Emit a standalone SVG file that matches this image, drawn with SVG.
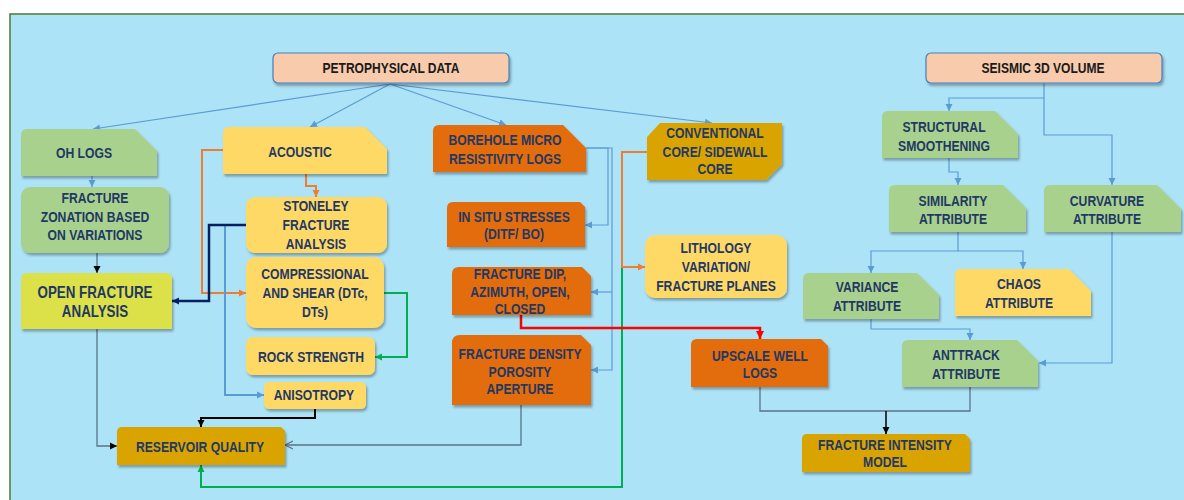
<svg xmlns="http://www.w3.org/2000/svg" width="1184" height="500" viewBox="0 0 1184 500">
<style>
.t{font-family:"Liberation Sans",Arial,sans-serif;font-weight:bold;font-size:14.5px;fill:#1F3864;text-anchor:middle}
.tk{fill:#1a1a1a}
.big{font-size:16.5px}
.peach{fill:#F8CBAD;stroke:#4A7EBB;stroke-width:1.2}
.green{fill:#A9D18E}
.yellow{fill:#FFD966}
.orange{fill:#E36C0A}
.gold{fill:#DAA400}
.lime{fill:#DCE04A}
.c{fill:none}
.cb{stroke:#5B9BD5;stroke-width:1.2}
.cs{stroke:#5A7388;stroke-width:1.3}
</style>
<defs>
<filter id="sh" x="-10%" y="-10%" width="130%" height="140%">
<feDropShadow dx="1.5" dy="2.5" stdDeviation="1.2" flood-color="#000" flood-opacity="0.3"/>
</filter>
<marker id="mb" markerWidth="9" markerHeight="9" refX="7" refY="4" orient="auto" markerUnits="userSpaceOnUse"><path d="M0,0.5 L7,4 L0,7.5Z" fill="#5B9BD5"/></marker>
<marker id="mo" markerWidth="9" markerHeight="9" refX="7" refY="4" orient="auto" markerUnits="userSpaceOnUse"><path d="M0,0.5 L7,4 L0,7.5Z" fill="#ED7D31"/></marker>
<marker id="mn" markerWidth="9" markerHeight="9" refX="7" refY="4" orient="auto" markerUnits="userSpaceOnUse"><path d="M0,0.5 L7,4 L0,7.5Z" fill="#002060"/></marker>
<marker id="mk" markerWidth="9" markerHeight="9" refX="7" refY="4" orient="auto" markerUnits="userSpaceOnUse"><path d="M0,0.5 L7,4 L0,7.5Z" fill="#000"/></marker>
<marker id="mg" markerWidth="9" markerHeight="9" refX="7" refY="4" orient="auto" markerUnits="userSpaceOnUse"><path d="M0,0.5 L7,4 L0,7.5Z" fill="#00B050"/></marker>
<marker id="mr" markerWidth="10" markerHeight="10" refX="8" refY="4.5" orient="auto" markerUnits="userSpaceOnUse"><path d="M0,0.5 L8,4.5 L0,8.5Z" fill="#FF0000"/></marker>
<marker id="mv" markerWidth="10" markerHeight="10" refX="8" refY="4.5" orient="auto" markerUnits="userSpaceOnUse"><path d="M0,0.5 L8,4.5 L0,8.5" fill="none" stroke="#5A7388" stroke-width="1.2"/></marker>
</defs>

<rect x="0" y="0" width="1184" height="500" fill="#fff"/>
<rect x="10" y="14" width="1180" height="492" fill="#ADE3F6"/>
<path d="M10,500 V14 H1184" fill="none" stroke="#4E7A2F" stroke-width="1.5"/>

<g id="connectors">
<path class="c cb" stroke-width="1" d="M390,84 L93,129" marker-end="url(#mb)"/>
<path class="c cb" stroke-width="1" d="M390,84 L310,127" marker-end="url(#mb)"/>
<path class="c cb" stroke-width="1" d="M390,84 L506,125" marker-end="url(#mb)"/>
<path class="c cb" stroke-width="1" d="M390,84 L712,123" marker-end="url(#mb)"/>
<path class="c cb" d="M92,176 V187" marker-end="url(#mb)"/>
<path class="c cs" d="M97,253 V273" marker-end="url(#mk)"/>
<path class="c" stroke="#ED7D31" stroke-width="2" d="M306,174 V186 H316 V197" marker-end="url(#mo)"/>
<path class="c" stroke="#ED7D31" stroke-width="2" d="M223,150 H202 V293 H246" marker-end="url(#mo)"/>
<path class="c" stroke="#5B9BD5" stroke-width="2" d="M225,225 V395 H264" marker-end="url(#mb)"/>
<path class="c" stroke="#002060" stroke-width="2.5" d="M246,225 H209 V301 H172" marker-end="url(#mn)"/>
<path class="c" stroke="#00B050" stroke-width="2" d="M384,293 H407 V357 H375" marker-end="url(#mg)"/>
<path class="c" stroke="#000" stroke-width="2" d="M315,409 V418 H201 V427" marker-end="url(#mk)"/>
<path class="c cs" d="M97,329 V446 H117" marker-end="url(#mk)"/>
<path class="c cs" d="M521,405 V445 H285" marker-end="url(#mv)"/>
<path class="c cb" d="M586,148 H608 V225 H585" marker-end="url(#mb)"/>
<path class="c cb" d="M586,148 H612 V370 H591" marker-end="url(#mb)"/>
<path class="c cb" d="M612,292 H591" marker-end="url(#mb)"/>
<path class="c" stroke="#00B050" stroke-width="2" d="M645,267 H622 V487 H201 V465" marker-end="url(#mg)"/>
<path class="c" stroke="#ED7D31" stroke-width="2" d="M647,152 H622 V267 H645" marker-end="url(#mo)"/>
<path class="c" stroke="#FF0000" stroke-width="2.5" d="M521,315 V328 H760 V339" marker-end="url(#mr)"/>
<path class="c cs" d="M760,387 V411 H886"/>
<path class="c cs" d="M970,387 V411 H886"/>
<path class="c" stroke="#000" stroke-width="1.5" d="M886,411 V434" marker-end="url(#mk)"/>
<path class="c cb" d="M1044,83 V98 H949 V111" marker-end="url(#mb)"/>
<path class="c cb" d="M1044,98 V135 H1112 V185" marker-end="url(#mb)"/>
<path class="c cb" d="M949,158 V172 H958 V185" marker-end="url(#mb)"/>
<path class="c cb" d="M958,232 V251 H871 V273" marker-end="url(#mb)"/>
<path class="c cb" d="M958,251 H1023 V269" marker-end="url(#mb)"/>
<path class="c cb" d="M871,319 V329 H970 V340" marker-end="url(#mb)"/>
<path class="c cb" d="M1112,232 V363 H1039" marker-end="url(#mb)"/>
</g>

<g id="petrophysical"><rect class="peach" x="273" y="53" width="236" height="30" rx="5" filter="url(#sh)"/><g transform="matrix(.83,0,0,1,391,0)"><text class="t tk" x="0" y="73">PETROPHYSICAL DATA</text></g></g>
<g id="seismic"><rect class="peach" x="926" y="53" width="236" height="30" rx="5" filter="url(#sh)"/><g transform="matrix(.83,0,0,1,1043,0)"><text class="t tk" x="0" y="73">SEISMIC 3D VOLUME</text></g></g>

<g id="ohlogs"><path class="green" filter="url(#sh)" d="M27,129 H135 L157,151 V176 H21 V135 Q21,129 27,129Z"/><g transform="matrix(.84,0,0,1,84,0)"><text class="t" x="0" y="158">OH LOGS</text></g></g>
<g id="zonation"><rect class="green" filter="url(#sh)" x="21" y="187" width="148" height="66" rx="9"/><g transform="matrix(.84,0,0,1,95,0)"><text class="t" x="0" y="203">FRACTURE</text><text class="t" x="0" y="222">ZONATION BASED</text><text class="t" x="0" y="240">ON VARIATIONS</text></g></g>
<g id="openfracture"><path class="lime" filter="url(#sh)" d="M27,273 H168 L172,277 V329 H21 V279 Q21,273 27,273Z"/><g transform="matrix(.81,0,0,1,95,0)"><text class="t big" x="0" y="298">OPEN FRACTURE</text><text class="t big" x="0" y="317">ANALYSIS</text></g></g>

<g id="acoustic"><path class="yellow" filter="url(#sh)" d="M229,127 H365 L387,149 V174 H223 V133 Q223,127 229,127Z"/><g transform="matrix(.84,0,0,1,300,0)"><text class="t" x="0" y="157">ACOUSTIC</text></g></g>
<g id="stoneley"><rect class="yellow" filter="url(#sh)" x="246" y="197" width="141" height="56" rx="9"/><g transform="matrix(.84,0,0,1,316,0)"><text class="t" x="0" y="211">STONELEY</text><text class="t" x="0" y="230">FRACTURE</text><text class="t" x="0" y="249">ANALYSIS</text></g></g>
<g id="compressional"><rect class="yellow" filter="url(#sh)" x="246" y="257" width="138" height="71" rx="10"/><g transform="matrix(.84,0,0,1,315,0)"><text class="t" x="0" y="279">COMPRESSIONAL</text><text class="t" x="0" y="298">AND SHEAR (DTc,</text><text class="t" x="0" y="317">DTs)</text></g></g>
<g id="rockstrength"><rect class="yellow" filter="url(#sh)" x="246" y="337" width="129" height="38" rx="7"/><g transform="matrix(.84,0,0,1,311,0)"><text class="t" x="0" y="362">ROCK STRENGTH</text></g></g>
<g id="anisotropy"><rect class="yellow" filter="url(#sh)" x="264" y="382" width="102" height="27" rx="5"/><g transform="matrix(.84,0,0,1,314,0)"><text class="t" x="0" y="400">ANISOTROPY</text></g></g>
<g id="reservoir"><path class="gold" filter="url(#sh)" d="M122,427 H281 L285,431 V465 H117 V432 Q117,427 122,427Z"/><g transform="matrix(.84,0,0,1,200,0)"><text class="t" x="0" y="452">RESERVOIR QUALITY</text></g></g>

<g id="borehole"><path class="orange" filter="url(#sh)" d="M439,125 H563 L586,148 V172 H433 V131 Q433,125 439,125Z"/><g transform="matrix(.84,0,0,1,505,0)"><text class="t" x="0" y="145">BOREHOLE MICRO</text><text class="t" x="0" y="164">RESISTIVITY LOGS</text></g></g>
<g id="insitu"><path class="orange" filter="url(#sh)" d="M453,202 H580 L585,207 V247 H447 V208 Q447,202 453,202Z"/><g transform="matrix(.84,0,0,1,514,0)"><text class="t" x="0" y="222">IN SITU STRESSES</text><text class="t" x="0" y="239">(DITF/ BO)</text></g></g>
<g id="fracturedip"><path class="orange" filter="url(#sh)" d="M459,267 H582 L591,276 V315 H452 V274 Q452,267 459,267Z"/><g transform="matrix(.84,0,0,1,520,0)"><text class="t" x="0" y="279">FRACTURE DIP,</text><text class="t" x="0" y="297">AZIMUTH, OPEN,</text><text class="t" x="0" y="314">CLOSED</text></g></g>
<g id="fracturedensity"><path class="orange" filter="url(#sh)" d="M460,335 H581 L591,345 V405 H452 V343 Q452,335 460,335Z"/><g transform="matrix(.84,0,0,1,520,0)"><text class="t" x="0" y="359">FRACTURE DENSITY</text><text class="t" x="0" y="377">POROSITY</text><text class="t" x="0" y="394">APERTURE</text></g></g>
<g id="conventional"><path class="gold" filter="url(#sh)" d="M660,123 H782 V164 L766,180 H647 V137Z"/><g transform="matrix(.84,0,0,1,715,0)"><text class="t" x="0" y="138">CONVENTIONAL</text><text class="t" x="0" y="157">CORE/ SIDEWALL</text><text class="t" x="0" y="174">CORE</text></g></g>
<g id="lithology"><rect class="yellow" filter="url(#sh)" x="645" y="235" width="142" height="63" rx="10"/><g transform="matrix(.84,0,0,1,716,0)"><text class="t" x="0" y="253">LITHOLOGY</text><text class="t" x="0" y="272">VARIATION/</text><text class="t" x="0" y="291">FRACTURE  PLANES</text></g></g>
<g id="upscale"><path class="orange" filter="url(#sh)" d="M697,339 H821 L828,346 V387 H691 V345 Q691,339 697,339Z"/><g transform="matrix(.84,0,0,1,760,0)"><text class="t" x="0" y="361">UPSCALE WELL</text><text class="t" x="0" y="378">LOGS</text></g></g>

<g id="structural"><path class="green" filter="url(#sh)" d="M888,111 H995 L1018,134 V158 H882 V117 Q882,111 888,111Z"/><g transform="matrix(.84,0,0,1,944,0)"><text class="t" x="0" y="132">STRUCTURAL</text><text class="t" x="0" y="151">SMOOTHENING</text></g></g>
<g id="similarity"><path class="green" filter="url(#sh)" d="M895,185 H1003 L1026,208 V232 H889 V191 Q889,185 895,185Z"/><g transform="matrix(.84,0,0,1,953,0)"><text class="t" x="0" y="206">SIMILARITY</text><text class="t" x="0" y="224">ATTRIBUTE</text></g></g>
<g id="curvature"><path class="green" filter="url(#sh)" d="M1050,185 H1157 L1181,209 V232 H1044 V191 Q1044,185 1050,185Z"/><g transform="matrix(.84,0,0,1,1107,0)"><text class="t" x="0" y="206">CURVATURE</text><text class="t" x="0" y="224">ATTRIBUTE</text></g></g>
<g id="variance"><path class="green" filter="url(#sh)" d="M809,273 H917 L939,295 V319 H803 V279 Q803,273 809,273Z"/><g transform="matrix(.84,0,0,1,867,0)"><text class="t" x="0" y="292">VARIANCE</text><text class="t" x="0" y="311">ATTRIBUTE</text></g></g>
<g id="chaos"><path class="yellow" filter="url(#sh)" d="M961,269 H1069 L1091,291 V316 H955 V275 Q955,269 961,269Z"/><g transform="matrix(.84,0,0,1,1019,0)"><text class="t" x="0" y="289">CHAOS</text><text class="t" x="0" y="308">ATTRIBUTE</text></g></g>
<g id="anttrack"><path class="green" filter="url(#sh)" d="M908,340 H1017 L1038,361 V387 H902 V346 Q902,340 908,340Z"/><g transform="matrix(.84,0,0,1,966,0)"><text class="t" x="0" y="360">ANTTRACK</text><text class="t" x="0" y="379">ATTRIBUTE</text></g></g>
<g id="intensity"><path class="gold" filter="url(#sh)" d="M807,434 H965 L970,439 V472 H802 V439 Q802,434 807,434Z"/><g transform="matrix(.84,0,0,1,885,0)"><text class="t" x="0" y="450">FRACTURE INTENSITY</text><text class="t" x="0" y="467">MODEL</text></g></g>
</svg>
